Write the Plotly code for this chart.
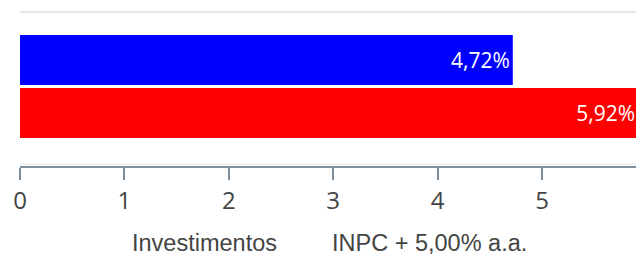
import plotly.graph_objects as go

categories = ["Investimentos", "INPC + 5,00% a.a."]
values = [4.72, 5.92]
labels = ["4,72%", "5,92%"]
colors = ["#0000ff", "#ff0000"]
tick_values = [0, 1, 2, 3, 4, 5]

fig = go.Figure()
for cat, val, lab, col in zip(categories, values, labels, colors):
    fig.add_trace(go.Bar(
        x=[val], y=[cat], orientation="h", name=cat,
        marker=dict(color=col, line=dict(width=0)),
        text=[lab], textposition="inside", insidetextanchor="end",
        textfont=dict(family="Open Sans", size=21, color="#ffffff"),
        constraintext="none", showlegend=False, hoverinfo="skip",
    ))

fig.update_layout(
    width=636, height=254,
    margin=dict(l=20, r=0, t=12, b=88),
    paper_bgcolor="#ffffff", plot_bgcolor="#ffffff",
    barmode="overlay", bargap=0.057,
    xaxis=dict(
        range=[0, 5.9], tickvals=tick_values, ticktext=[str(v) for v in tick_values],
        showgrid=False, zeroline=False,
        showline=True, linecolor="#7d8f9c", linewidth=2,
        ticks="outside", ticklen=12, tickwidth=2, tickcolor="#7d8f9c",
        tickfont=dict(family="Open Sans", size=24, color="#444444"),
    ),
    yaxis=dict(
        categoryorder="array", categoryarray=categories,
        range=[2.0, -0.906], showticklabels=False, showgrid=False,
        zeroline=False, showline=False,
    ),
    shapes=[
        dict(type="line", xref="paper", yref="paper", x0=0, x1=1,
             ysizemode="pixel", yanchor=1, y0=0, y1=0,
             line=dict(color="#e6e6e6", width=2)),
        dict(type="line", xref="paper", yref="paper", x0=0, x1=1,
             ysizemode="pixel", yanchor=0, y0=2, y1=2,
             line=dict(color="#e6e6e6", width=1)),
    ],
    annotations=[
        dict(text=categories[0], xref="paper", yref="paper", x=0.1786, y=-0.497,
             xanchor="left", yanchor="middle", showarrow=False,
             font=dict(family="Liberation Sans", size=23.5, color="#444444")),
        dict(text=categories[1], xref="paper", yref="paper", x=0.5032, y=-0.497,
             xanchor="left", yanchor="middle", showarrow=False,
             font=dict(family="Liberation Sans", size=23.5, color="#444444")),
    ],
)

fig.write_html(
    "out.html",
    config={"displayModeBar": False},
    post_script="document.body.style.margin='0px';document.body.style.overflow='hidden';",
)
